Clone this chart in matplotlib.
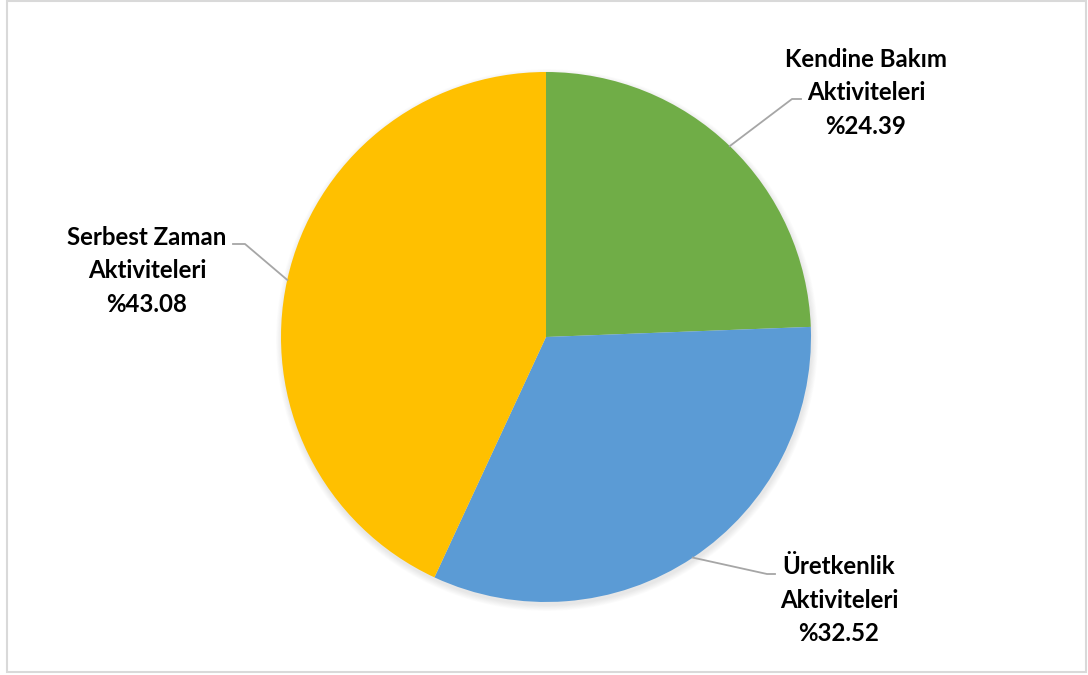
import numpy as np
import matplotlib.pyplot as plt
from matplotlib.patches import Circle, Rectangle

# Activity shares (%)
categories = ["Kendine Bakım\nAktiviteleri", "Üretkenlik\nAktiviteleri", "Serbest Zaman\nAktiviteleri"]
shares = [24.39, 32.52, 43.08]
colors = ["#70AD47", "#5B9BD5", "#FFC000"]

W, H = 1088, 675
CX, CY, R = 546, H - 337, 265

plt.rcParams["font.family"] = ["Lato", "DejaVu Sans"]

fig = plt.figure(figsize=(W / 100, H / 100), dpi=100)
ax = fig.add_axes([0, 0, 1, 1])

# soft drop shadow under the pie
for k in range(8):
    ax.add_patch(Circle((CX + 1, CY - 3), R + 6 - k * 0.8, color="black",
                        alpha=0.012, lw=0, zorder=0))

wedges, _ = ax.pie(shares, colors=colors, startangle=90, counterclock=False,
                   center=(CX, CY), radius=R,
                   wedgeprops=dict(linewidth=0))

# label block centre, elbow of leader line, end of leader line
label_pos = [
    ((866, H - 93), (792, H - 99), (801, H - 99)),
    ((839, H - 600), (767, H - 574), (775, H - 574)),
    ((147, H - 271), (245, H - 244), (233, H - 244)),
]

for w, cat, val, (txt, elbow, end) in zip(wedges, categories, shares, label_pos):
    mid = np.deg2rad((w.theta1 + w.theta2) / 2)
    edge = (CX + R * np.cos(mid), CY + R * np.sin(mid))
    ax.plot([edge[0], elbow[0], end[0]], [edge[1], elbow[1], end[1]],
            color="#A6A6A6", lw=1.3, zorder=3)
    ax.text(txt[0], txt[1], f"{cat}\n%{val:.2f}", ha="center", va="center",
            fontsize=17.3, fontweight="bold", color="black", linespacing=1.55)

ax.set_xlim(0, W)
ax.set_ylim(0, H)
ax.set_aspect("equal")
ax.axis("off")

# chart area border
fig.patches.append(Rectangle((7 / W, 3 / H), 1079 / W, 671 / H, transform=fig.transFigure,
                             fill=False, edgecolor="#D9D9D9", lw=1.5))

fig.savefig("out.png", dpi=100, facecolor="white")
